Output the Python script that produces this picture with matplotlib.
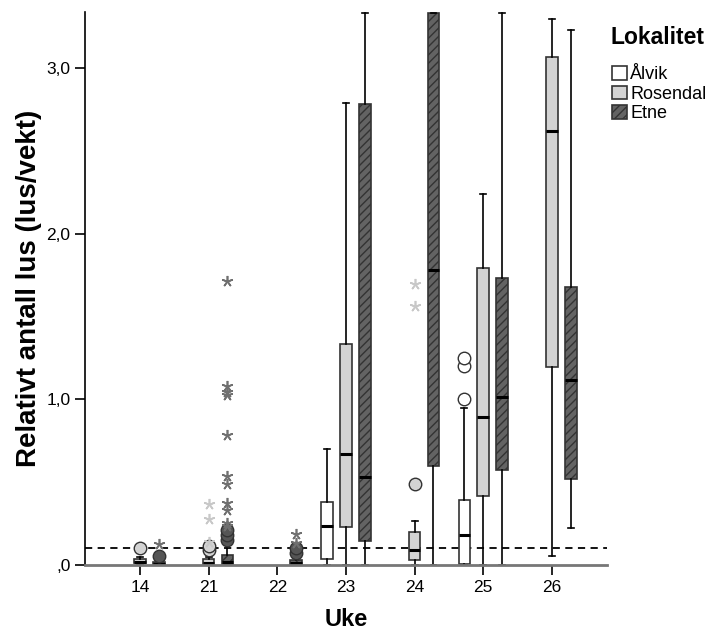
import numpy as np
import matplotlib.pyplot as plt
from matplotlib.patches import Patch

plt.rcParams['font.family'] = ['Liberation Sans', 'DejaVu Sans']

# Uker (kategorier på x-aksen) og lokaliteter
uker = ['14', '21', '22', '23', '24', '25', '26']
lokaliteter = ['Ålvik', 'Rosendal', 'Etne']

# Boksstatistikk per lokalitet og uke (None = ingen data)
# (q1, median, q3, nedre whisker, øvre whisker)
alvik_stats = [None, None, None,
               (0.036, 0.233, 0.378, 0.0, 0.697),
               None,
               (0.006, 0.181, 0.393, 0.0, 0.95),
               None]
rosendal_stats = [(0.01, 0.02, 0.034, 0.0, 0.048),
                  (0.0, 0.01, 0.034, 0.0, 0.05),
                  None,
                  (0.231, 0.669, 1.331, 0.0, 2.785),
                  (0.03, 0.088, 0.2, 0.0, 0.265),
                  (0.414, 0.893, 1.789, 0.0, 2.24),
                  (1.195, 2.62, 3.066, 0.052, 3.295)]
etne_stats = [(0.0, 0.005, 0.016, 0.0, 0.03),
              (0.0, 0.02, 0.06, 0.0, 0.12),
              (0.0, 0.01, 0.028, 0.0, 0.05),
              (0.143, 0.532, 2.78, 0.0, 3.33),
              (0.598, 1.78, 3.33, 0.0, 3.33),
              (0.576, 1.014, 1.729, 0.0, 3.33),
              (0.52, 1.114, 1.677, 0.223, 3.23)]

# Uteliggere (sirkler) og ekstremverdier (stjerner)
alvik_sirkler = [[], [], [], [], [], [1.0, 1.199, 1.249], []]
rosendal_sirkler = [[0.1], [0.09, 0.116], [], [], [0.486], [], []]
etne_sirkler = [[0.054], [0.15, 0.18, 0.21], [0.07, 0.1], [], [], [], []]
rosendal_stjerner = [[], [0.14, 0.277, 0.369], [], [], [1.564, 1.693], [], []]
etne_stjerner = [[0.125],
                 [0.235, 0.255, 0.331, 0.375, 0.486, 0.536, 0.787,
                  1.024, 1.044, 1.078, 1.713],
                 [0.13, 0.19], [], [], [], []]

grense = 0.1
yticks = [0.0, 1.0, 2.0, 3.0]
ytick_labels = [',0', '1,0', '2,0', '3,0']

fig = plt.figure(figsize=(7.14, 6.39), dpi=100)
ax = fig.add_axes([0.119, 0.1158, 0.731, 0.865])

stats_alle = [alvik_stats, rosendal_stats, etne_stats]
sirkler_alle = [alvik_sirkler, rosendal_sirkler, etne_sirkler]
stjerner_alle = [[[] for _ in uker], rosendal_stjerner, etne_stjerner]
fyll = ['white', '#d3d3d3', '#636363']
sirkel_fyll = ['white', '#d3d3d3', '#555555']
stjerne_farge = ['#999999', '#c8c8c8', '#707070']
hatch = [None, None, '////']
offset = [-0.275, 0.0, 0.275]
x = np.arange(len(uker))

for k in range(3):
    bxp_data = []
    pos = []
    for i, s in enumerate(stats_alle[k]):
        if s is None:
            continue
        q1, med, q3, lo, hi = s
        bxp_data.append(dict(q1=q1, med=med, q3=q3, whislo=lo, whishi=hi, fliers=[]))
        pos.append(x[i] + offset[k])
    res = ax.bxp(bxp_data, positions=pos, widths=0.17, patch_artist=True,
                 showfliers=False, capwidths=0.085,
                 boxprops=dict(facecolor=fyll[k], edgecolor='#333333', linewidth=1.2),
                 medianprops=dict(color='black', linewidth=2.2),
                 whiskerprops=dict(color='black', linewidth=1.2),
                 capprops=dict(color='black', linewidth=1.2))
    for b in res['boxes']:
        if hatch[k]:
            b.set_hatch(hatch[k])
        b.set_clip_on(False)
    for i in range(len(uker)):
        xs = x[i] + offset[k]
        if sirkler_alle[k][i]:
            vals = sirkler_alle[k][i]
            ax.plot([xs] * len(vals), vals, 'o', ms=9, mfc=sirkel_fyll[k],
                    mec='#333333', mew=1.0, zorder=4)
        if stjerner_alle[k][i]:
            vals = stjerner_alle[k][i]
            ax.plot([xs] * len(vals), vals, marker=(5, 2, 0), ls='none', ms=8,
                    color=stjerne_farge[k], mew=1.2, zorder=4)

ax.axhline(grense, color='black', ls=(0, (4, 3)), lw=1.3, zorder=1)

ax.set_xlim(-0.8, 6.8)
ax.set_ylim(0, 3.335)
ax.set_xticks(x)
ax.set_xticklabels(uker, fontsize=12.5)
ax.set_yticks(yticks)
ax.set_yticklabels(ytick_labels, fontsize=12.5)
ax.tick_params(axis='both', direction='out', length=7, width=1.2, color='black')
for side in ['top', 'right']:
    ax.spines[side].set_visible(False)
ax.spines['left'].set_linewidth(1.2)
ax.spines['bottom'].set_color('#777777')
ax.spines['bottom'].set_linewidth(2)

ax.set_xlabel('Uke', fontsize=17, fontweight='bold', labelpad=10)
ax.set_ylabel('Relativt antall lus (lus/vekt)', fontsize=20, fontweight='bold', labelpad=3)

# Legende med egen tittel
fig.text(610 / 714, 1 - 38 / 639, 'Lokalitet', fontsize=16.5, fontweight='bold',
         ha='left', va='center')
handles = [Patch(facecolor=fyll[k], edgecolor='#333333', hatch=hatch[k], lw=1.2)
           for k in range(3)]
leg = fig.legend(handles, lokaliteter, loc='upper left',
                 bbox_to_anchor=(596 / 714, 1 - 50 / 639),
                 frameon=False, fontsize=13,
                 handlelength=0.8, handleheight=0.8, handletextpad=0.2,
                 labelspacing=0.12)

fig.savefig('out.png', dpi=100)
